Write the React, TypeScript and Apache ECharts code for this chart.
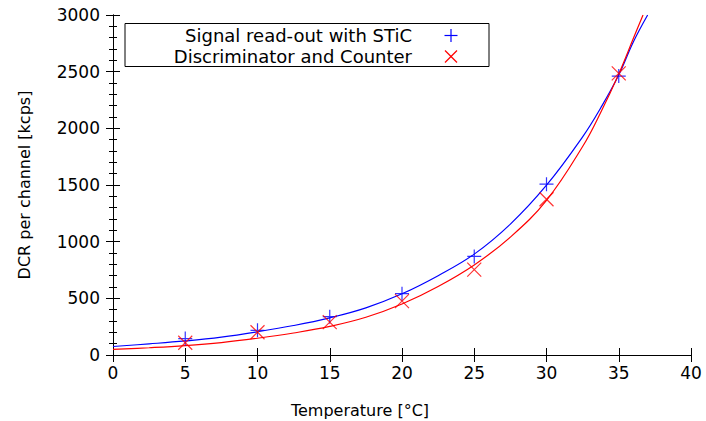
import React, { useEffect, useRef } from "react";
import * as echarts from "echarts";

// Measured data points
const temps = [5, 10, 15, 20, 25, 30, 35];
const sticValues = [145, 218, 338, 541, 870, 1507, 2461];
const discValues = [108, 201, 290, 475, 753, 1374, 2485];

// Fitted curves
const sticFitX = [0, 2.5, 5, 7.5, 10, 12.5, 15, 17.5, 20, 22.5, 25, 27.5, 30, 32.5, 33.75, 35, 36, 37.0];
const sticFitY = [75, 98, 124, 158, 205, 260, 328, 416, 540, 700, 890, 1155, 1498, 1925, 2180, 2470, 2760, 3000];
const discFitX = [0, 2.5, 5, 7.5, 10, 12.5, 15, 17.5, 20, 22.5, 25, 27.5, 30, 32.5, 33.75, 35, 36, 36.68];
const discFitY = [49, 64, 83, 110, 148, 194, 252, 333, 450, 605, 795, 1040, 1365, 1840, 2140, 2480, 2790, 3000];

const xTicks = [0, 40, 5];
const yTicks = [0, 3000, 500];

const seriesNames = ["Signal read-out with STiC", "Discriminator and Counter"];
const FONT = "DejaVu Sans";

export default function App() {
  const ref = useRef<HTMLDivElement>(null);
  useEffect(() => {
    if (!ref.current) return;
    const chart = echarts.init(ref.current, undefined, { renderer: "svg" });
    const zip = (xs: number[], ys: number[]) => xs.map((x, i) => [x, ys[i]]);
    const plusPath = "path://M7,0L7,14M0,7L14,7";
    const crossPath = "path://M0,0L14,14M0,14L14,0";
    const axisCommon = {
      type: "value" as const,
      min: xTicks[0],
      max: xTicks[1],
      interval: xTicks[2],
      axisLine: { show: true, lineStyle: { color: "#000", width: 1 } },
      splitLine: { show: false },
    };
    const yCommon = {
      type: "value" as const,
      min: yTicks[0],
      max: yTicks[1],
      interval: yTicks[2],
      axisLine: { show: true, lineStyle: { color: "#000", width: 1 } },
      axisTick: { inside: true, length: 7, lineStyle: { color: "#000" } },
      minorTick: { show: true, splitNumber: 5, length: 4, lineStyle: { color: "#000" } },
      splitLine: { show: false },
    };
    chart.setOption({
      animation: false,
      backgroundColor: "#fff",
      grid: { left: 113, right: 15, top: 15, bottom: 66, containLabel: false },
      xAxis: [
        {
          ...axisCommon,
          position: "bottom",
          axisTick: { inside: true, length: 7, lineStyle: { color: "#000" } },
          axisLabel: { color: "#000", fontFamily: FONT, fontSize: 17, margin: 9 },
        },
        {
          ...axisCommon,
          position: "top",
          axisTick: { inside: true, length: 7, lineStyle: { color: "#000" } },
          axisLabel: { show: false },
        },
      ],
      yAxis: [
        {
          ...yCommon,
          position: "left",
          axisLabel: {
            color: "#000",
            fontFamily: FONT,
            fontSize: 17,
            margin: 13,
            formatter: (v: number) => String(v),
          },
        },
        {
          ...yCommon,
          position: "right",
          axisLabel: { show: false },
        },
      ],
      series: [
        {
          type: "line",
          data: zip(sticFitX, sticFitY),
          smooth: 0.4,
          showSymbol: false,
          lineStyle: { color: "#0000ff", width: 1.2 },
          clip: true,
          z: 2,
        },
        {
          type: "line",
          data: zip(discFitX, discFitY),
          smooth: 0.4,
          showSymbol: false,
          lineStyle: { color: "#ff0000", width: 1.2 },
          clip: true,
          z: 2,
        },
        {
          name: seriesNames[0],
          type: "scatter",
          data: zip(temps, sticValues),
          symbol: plusPath,
          symbolSize: 14,
          itemStyle: { color: "none", borderColor: "#0000ff", borderWidth: 1.2 },
          z: 3,
        },
        {
          name: seriesNames[1],
          type: "scatter",
          data: zip(temps, discValues),
          symbol: crossPath,
          symbolSize: 14,
          itemStyle: { color: "none", borderColor: "#ff0000", borderWidth: 1.2 },
          z: 3,
        },
      ],
      graphic: [
        {
          type: "text",
          x: 360,
          y: 410,
          style: {
            text: "Temperature [°C]",
            fontFamily: FONT,
            fontSize: 16,
            fill: "#000",
            align: "center",
            verticalAlign: "middle",
          },
        },
        {
          type: "text",
          x: 24,
          y: 185,
          rotation: Math.PI / 2,
          style: {
            text: "DCR per channel [kcps]",
            fontFamily: FONT,
            fontSize: 16,
            fill: "#000",
            align: "center",
            verticalAlign: "middle",
          },
        },
        {
          type: "rect",
          shape: { x: 125, y: 23.5, width: 364, height: 43 },
          style: { fill: "#fff", stroke: "#000", lineWidth: 1 },
          z: 10,
        },
        {
          type: "text",
          x: 412,
          y: 35.5,
          z: 11,
          style: {
            text: seriesNames[0],
            fontFamily: FONT,
            fontSize: 18,
            fill: "#000",
            align: "right",
            verticalAlign: "middle",
          },
        },
        {
          type: "text",
          x: 412,
          y: 56.5,
          z: 11,
          style: {
            text: seriesNames[1],
            fontFamily: FONT,
            fontSize: 18,
            fill: "#000",
            align: "right",
            verticalAlign: "middle",
          },
        },
        {
          type: "group",
          z: 11,
          children: [
            { type: "line", shape: { x1: 451, y1: 29, x2: 451, y2: 42 }, style: { stroke: "#0000ff", lineWidth: 1.2 }, z: 11 },
            { type: "line", shape: { x1: 444.5, y1: 35.5, x2: 457.5, y2: 35.5 }, style: { stroke: "#0000ff", lineWidth: 1.2 }, z: 11 },
            { type: "line", shape: { x1: 445, y1: 50.5, x2: 457, y2: 62.5 }, style: { stroke: "#ff0000", lineWidth: 1.2 }, z: 11 },
            { type: "line", shape: { x1: 445, y1: 62.5, x2: 457, y2: 50.5 }, style: { stroke: "#ff0000", lineWidth: 1.2 }, z: 11 },
          ],
        },
      ],
    });
    return () => chart.dispose();
  }, []);
  return <div ref={ref} style={{ width: 706, height: 421, position: "absolute", left: 0, top: 0 }} />;
}
